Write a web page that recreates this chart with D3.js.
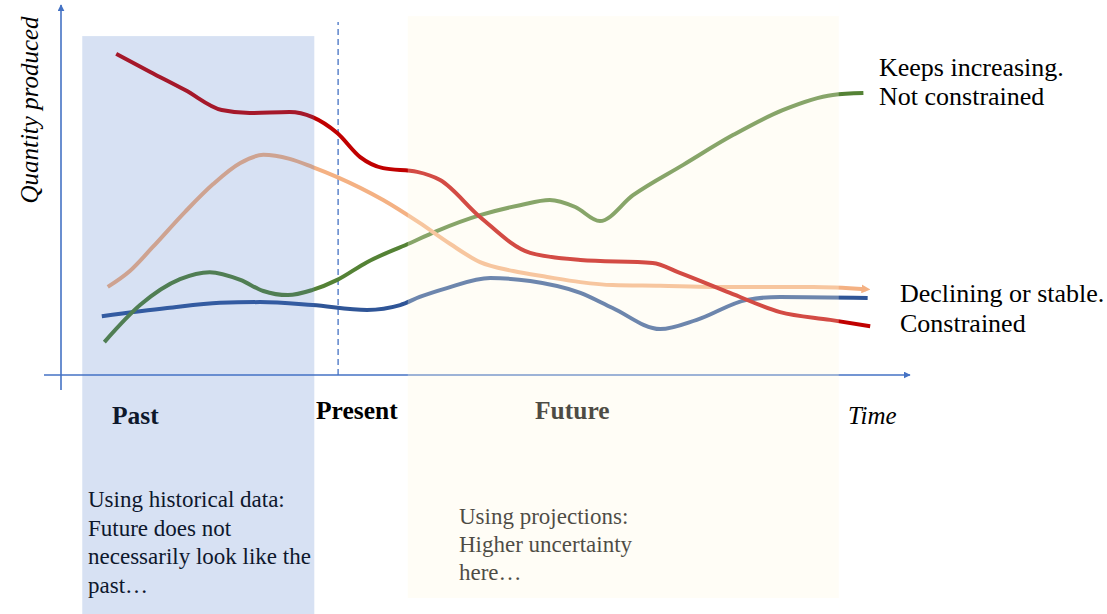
<!DOCTYPE html>
<html>
<head>
<meta charset="utf-8">
<script src="https://cdn.jsdelivr.net/npm/d3@7"></script>
<style>
  body { margin: 0; background: #fff; }
  svg { display: block; font-family: "Liberation Serif", "Times New Roman", serif; }
</style>
</head>
<body>
<div id="chart"></div>
<script>
// 1: DATA (time 0-100, quantity 0-100, conceptual units)
const redTime = [6.5, 10.5, 14.6, 18.9, 22.2, 26.9, 29.6, 32.5, 35.2, 37.9, 41.9, 44.6, 49.3, 55.2, 61.1, 69.6, 72.8, 78.7, 84.6, 90.5, 95.2];
const redQty  = [86.8, 81.9, 77.0, 71.6, 70.8, 71.1, 69.7, 65.4, 58.9, 55.9, 54.9, 52.7, 42.7, 33.0, 31.1, 30.3, 27.6, 22.2, 17.0, 14.9, 13.2];

const greenTime = [5.1, 9.3, 14.0, 17.5, 21.1, 23.8, 26.7, 29.6, 32.5, 36.0, 40.8, 44.2, 49.3, 54.0, 57.5, 60.5, 63.4, 67.3, 73.2, 79.1, 84.9, 90.8, 94.4];
const greenQty  = [8.9, 18.9, 25.9, 27.8, 25.7, 22.7, 21.6, 23.0, 25.7, 30.5, 35.4, 38.9, 43.2, 45.9, 47.3, 45.4, 41.6, 48.6, 56.8, 64.9, 71.6, 75.7, 76.2];

const orangeTime = [5.5, 8.1, 10.8, 14.6, 17.9, 21.1, 23.8, 26.9, 29.6, 32.5, 37.9, 42.2, 45.8, 49.3, 53.2, 57.2, 61.1, 64.9, 70.5, 76.7, 88.5, 94.7];
const orangeQty  = [23.8, 28.1, 34.6, 44.1, 51.6, 57.3, 59.5, 58.4, 56.2, 53.5, 47.3, 41.1, 35.4, 30.5, 28.1, 26.5, 25.1, 24.3, 24.1, 23.8, 23.8, 23.2];

const blueTime = [4.8, 12.5, 18.7, 23.4, 29.6, 36.0, 39.9, 42.2, 45.4, 50.5, 55.2, 61.1, 64.9, 70.5, 74.8, 80.7, 84.6, 94.9];
const blueQty  = [15.9, 18.1, 19.5, 19.7, 18.9, 17.6, 18.9, 21.1, 23.5, 26.2, 25.4, 22.2, 18.1, 12.4, 14.9, 20.3, 21.1, 20.8];

// periods: start / end in time units
const periodNames = ["Past", "Future"];
const periodStart = [2.5, 40.8];
const periodEnd   = [29.8, 91.5];
const presentTime = 32.6;

const pastNote = ["Using historical data:", "Future does not", "necessarily look like the", "past\u2026"];
const futureNote = ["Using projections:", "Higher uncertainty", "here\u2026"];

// 2: SETUP
const W = 1107, H = 614;
const svg = d3.select("#chart").append("svg")
    .attr("width", W)
    .attr("height", H);

const x = d3.scaleLinear().domain([0, 100]).range([61, 911]);
const y = d3.scaleLinear().domain([0, 100]).range([375, 5]);

const axisColor = "#4472c4";

const defs = svg.append("defs");
defs.append("marker")
    .attr("id", "axisArrow")
    .attr("viewBox", "0 0 10 10")
    .attr("refX", 9).attr("refY", 5)
    .attr("markerWidth", 7).attr("markerHeight", 7)
    .attr("markerUnits", "userSpaceOnUse")
    .attr("orient", "auto")
    .append("path")
    .attr("d", "M0,0 L10,5 L0,10 Z")
    .attr("fill", axisColor);

defs.append("marker")
    .attr("id", "orangeArrow")
    .attr("viewBox", "0 0 10 10")
    .attr("refX", 5).attr("refY", 5)
    .attr("markerWidth", 9).attr("markerHeight", 9)
    .attr("markerUnits", "userSpaceOnUse")
    .attr("orient", "auto")
    .append("path")
    .attr("d", "M0,0 L10,5 L0,10 Z")
    .attr("fill", "#f4b183");

// 3: AXES
svg.append("line")
    .attr("x1", x(0) - 17).attr("x2", x(100) - 1)
    .attr("y1", y(0)).attr("y2", y(0))
    .attr("stroke", axisColor).attr("stroke-width", 1.6)
    .attr("marker-end", "url(#axisArrow)");

svg.append("line")
    .attr("x1", x(0)).attr("x2", x(0))
    .attr("y1", y(0) + 15).attr("y2", y(100))
    .attr("stroke", axisColor).attr("stroke-width", 1.6)
    .attr("marker-end", "url(#axisArrow)");

// present marker
svg.append("line")
    .attr("x1", x(presentTime)).attr("x2", x(presentTime))
    .attr("y1", y(0)).attr("y2", y(95.4))
    .attr("stroke", axisColor).attr("stroke-width", 1.3)
    .attr("stroke-dasharray", "6,4");

// 4: LINES
const line = d3.line()
    .x(d => x(d[0]))
    .y(d => y(d[1]))
    .curve(d3.curveMonotoneX);

const series = [
    { t: blueTime, q: blueQty, color: "#2f5597" },
    { t: greenTime, q: greenQty, color: "#548235" },
    { t: orangeTime, q: orangeQty, color: "#f4b183", arrow: true },
    { t: redTime, q: redQty, color: "#c00000" }
];

series.forEach(s => {
    const pts = s.t.map((t, i) => [t, s.q[i]]);
    svg.append("path")
        .datum(pts)
        .attr("fill", "none")
        .attr("stroke", s.color)
        .attr("stroke-width", 4)
        .attr("d", line)
        .attr("marker-end", s.arrow ? "url(#orangeArrow)" : null);
});

// 5: LABELS
svg.append("text")
    .attr("transform", "translate(38,110) rotate(-90)")
    .attr("text-anchor", "middle")
    .style("font-style", "italic")
    .style("font-size", "25px")
    .text("Quantity produced");

svg.append("text")
    .attr("x", 848).attr("y", 424)
    .style("font-style", "italic")
    .style("font-size", "25px")
    .text("Time");

const bold = [["Past", 112, 424], ["Present", 316, 419], ["Future", 535, 419]];
bold.forEach(([t, px, py]) => {
    svg.append("text")
        .attr("x", px).attr("y", py)
        .style("font-weight", "bold")
        .style("font-size", "25.5px")
        .text(t);
});

const rightLabels = [
    ["Keeps increasing.", 879, 76],
    ["Not constrained", 879, 105],
    ["Declining or stable.", 900, 302],
    ["Constrained", 900, 332]
];
rightLabels.forEach(([t, px, py]) => {
    svg.append("text")
        .attr("x", px).attr("y", py)
        .style("font-size", "26px")
        .text(t);
});

pastNote.forEach((t, i) => {
    svg.append("text")
        .attr("x", 88).attr("y", 507 + i * 28.7)
        .style("font-size", "23px")
        .text(t);
});

futureNote.forEach((t, i) => {
    svg.append("text")
        .attr("x", 459).attr("y", 524 + i * 28)
        .style("font-size", "23px")
        .text(t);
});

// 6: PERIOD SHADING (drawn on top, semi-transparent)
const shadeFill = ["#4472c4", "#fffae0"];
const shadeOpacity = [0.21, 0.3];
const shadeTop = [91.6, 97.0];
const shadeBottom = [H, 598];

periodNames.forEach((p, i) => {
    svg.append("rect")
        .attr("x", x(periodStart[i]))
        .attr("y", y(shadeTop[i]))
        .attr("width", x(periodEnd[i]) - x(periodStart[i]))
        .attr("height", shadeBottom[i] - y(shadeTop[i]))
        .attr("fill", shadeFill[i])
        .attr("fill-opacity", shadeOpacity[i]);
});
</script>
</body>
</html>
